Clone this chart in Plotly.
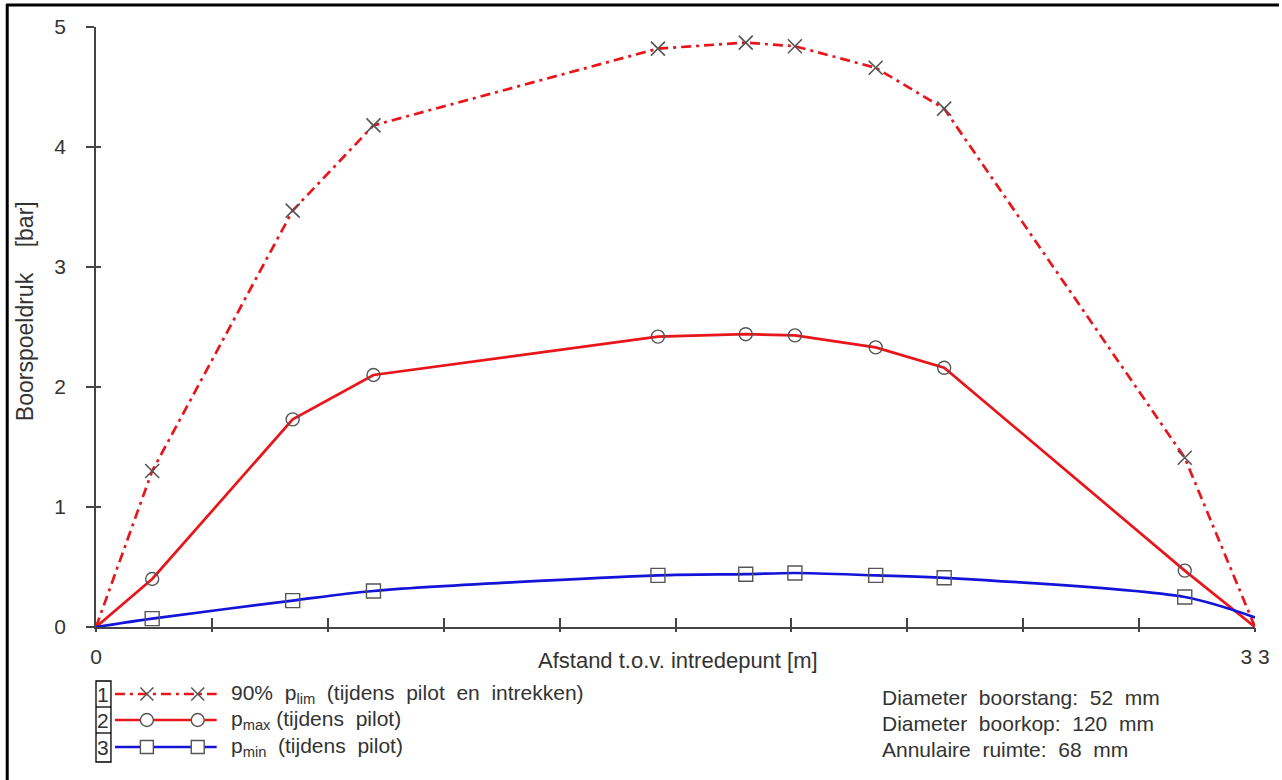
import plotly.graph_objects as go

# ---- data ----
x_m = [0, 1.6, 5.6, 7.9, 16.0, 18.5, 19.9, 22.2, 24.15, 31.0, 33]
p_lim90 = [0, 1.30, 3.47, 4.18, 4.82, 4.87, 4.84, 4.66, 4.32, 1.41, 0]
p_max = [0, 0.40, 1.73, 2.10, 2.42, 2.44, 2.43, 2.33, 2.16, 0.47, 0]
p_min = [0, 0.07, 0.22, 0.30, 0.43, 0.44, 0.45, 0.43, 0.41, 0.25, 0.08]

x_label_vals = [0, 33]
x_label_text = ["0", "3 3"]
x_tick_step = 3.3
y_tickvals = [0, 1, 2, 3, 4, 5]

S = " \u00a0"  # widened word gap as in the reference
legend_labels = ["90%" + S + "p<sub>lim</sub>" + S + "(tijdens" + S + "pilot" + S + "en" + S + "intrekken)",
                 "p<sub>max</sub> (tijdens" + S + "pilot)",
                 "p<sub>min</sub>" + S + "(tijdens" + S + "pilot)"]
info_lines = ["Diameter" + S + "boorstang:" + S + "52" + S + "mm",
              "Diameter" + S + "boorkop:" + S + "120" + S + "mm",
              "Annulaire" + S + "ruimte:" + S + "68" + S + "mm"]

RED = "#e8161b"
BLUE = "#1414d9"
MK = "#555555"
TXT = "#333333"
AX = "#444444"
FONT = "Arial, Liberation Sans, sans-serif"
FS = 21

W, H = 1282, 780
L, R, T, B = 96, 1258, 27, 627


def px(x):
    return (x - L) / (R - L)


def py(y):
    return (B - y) / (B - T)


fig = go.Figure()

inner_x = x_m[1:-1]

# 90% p_lim (dash-dot) on overlay y-axis
fig.add_trace(go.Scatter(x=x_m, y=p_lim90, mode="lines", xaxis="x", yaxis="y2",
                         line=dict(color=RED, width=2.7, dash="10px,5px,3px,5px"),
                         cliponaxis=False, showlegend=False, hoverinfo="skip"))
fig.add_trace(go.Scatter(x=inner_x, y=p_lim90[1:-1], mode="markers", xaxis="x", yaxis="y2",
                         marker=dict(symbol="x-thin-open", size=14, color=MK, line=dict(color=MK, width=1.6)),
                         cliponaxis=False, showlegend=False))
# p_max
fig.add_trace(go.Scatter(x=x_m, y=p_max, mode="lines",
                         line=dict(color=RED, width=2.7),
                         cliponaxis=False, showlegend=False, hoverinfo="skip"))
fig.add_trace(go.Scatter(x=inner_x, y=p_max[1:-1], mode="markers",
                         marker=dict(symbol="circle-open", size=13, color=MK, line=dict(color=MK, width=1.4)),
                         cliponaxis=False, showlegend=False))
# p_min (smooth) on overlay x-axis
fig.add_trace(go.Scatter(x=x_m, y=p_min, mode="lines", xaxis="x2", yaxis="y",
                         line=dict(color=BLUE, width=2.7, shape="spline", smoothing=0.8),
                         cliponaxis=False, showlegend=False, hoverinfo="skip"))
fig.add_trace(go.Scatter(x=inner_x, y=p_min[1:-1], mode="markers", xaxis="x2", yaxis="y",
                         marker=dict(symbol="square-open", size=14, color=MK, line=dict(color=MK, width=1.4)),
                         cliponaxis=False, showlegend=False))

axis_common = dict(showgrid=False, zeroline=False)
fig.update_layout(
    width=W, height=H, autosize=False,
    paper_bgcolor="white", plot_bgcolor="white",
    margin=dict(l=L, r=W - R, t=T, b=H - B),
    font=dict(family=FONT, size=FS, color=TXT),
    xaxis=dict(range=[0, 33], tickvals=x_label_vals, ticktext=x_label_text,
               ticks="inside", ticklen=9, tickwidth=1.5, tickcolor=AX,
               minor=dict(ticks="inside", ticklen=9, tickwidth=1.5, tickcolor=AX,
                          tick0=0, dtick=x_tick_step, showgrid=False),
               showline=True, linecolor=AX, linewidth=1.5,
               tickfont=dict(size=FS, color=TXT), ticklabelstandoff=10,
               **axis_common),
    xaxis2=dict(range=[0, 33], overlaying="x", anchor="y", side="bottom",
                tick0=0, dtick=x_tick_step, showticklabels=False,
                ticks="outside", ticklen=4, tickwidth=1.5, tickcolor=AX,
                showline=False, **axis_common),
    yaxis=dict(range=[0, 5], tickvals=y_tickvals,
               ticks="outside", ticklen=8, tickwidth=1.5, tickcolor=AX,
               showline=True, linecolor=AX, linewidth=1.5,
               tickfont=dict(size=FS, color=TXT), ticklabelstandoff=16,
               **axis_common),
    yaxis2=dict(range=[0, 5], overlaying="y", anchor="x", side="left",
                tickvals=y_tickvals, showticklabels=False,
                ticks="inside", ticklen=5, tickwidth=1.5, tickcolor=AX,
                showline=False, **axis_common),
)

ann = []
# axis titles
ann.append(dict(text="Boorspoeldruk" + "\u00a0" * 4 + "[bar]", x=px(25), y=py(311), xref="paper", yref="paper",
                textangle=-90, showarrow=False, xanchor="center", yanchor="middle",
                font=dict(size=23, color=TXT)))
ann.append(dict(text="Afstand t.o.v. intredepunt [m]", x=px(680), y=py(660), xref="paper", yref="paper",
                showarrow=False, xanchor="center", yanchor="middle", font=dict(size=FS + 1, color=TXT)))

shapes = []
# outer frame (top and left)
shapes.append(dict(type="line", xref="paper", yref="paper", x0=px(6), x1=px(1282), y0=py(5), y1=py(5),
                   line=dict(color="black", width=3)))
shapes.append(dict(type="line", xref="paper", yref="paper", x0=px(7), x1=px(7), y0=py(4), y1=py(780),
                   line=dict(color="black", width=3)))

# legend block
rows = [694, 720, 747]
box_edges = [681, 707, 733, 762]
shapes.append(dict(type="rect", xref="paper", yref="paper", x0=px(96), x1=px(111),
                   y0=py(box_edges[0]), y1=py(box_edges[-1]), line=dict(color="black", width=1.3)))
for e in box_edges[1:-1]:
    shapes.append(dict(type="line", xref="paper", yref="paper", x0=px(96), x1=px(111),
                       y0=py(e), y1=py(e), line=dict(color="black", width=1.3)))
styles = [dict(color=RED, width=2.4, dash="10px,5px,3px,5px"),
          dict(color=RED, width=2.6),
          dict(color=BLUE, width=2.6)]
for i, (yy, st) in enumerate(zip(rows, styles)):
    ann.append(dict(text=str(i + 1), x=px(103.5), y=py(yy), xref="paper", yref="paper",
                    showarrow=False, xanchor="center", yanchor="middle", font=dict(size=FS, color=TXT)))
    shapes.append(dict(type="line", xref="paper", yref="paper", x0=px(115), x1=px(217),
                       y0=py(yy), y1=py(yy), line=st))
    for mx in (147, 198):
        r = 6.5
        if i == 0:
            for d in (1, -1):
                shapes.append(dict(type="line", xref="paper", yref="paper",
                                   x0=px(mx - r), x1=px(mx + r), y0=py(yy - d * r), y1=py(yy + d * r),
                                   line=dict(color=MK, width=1.5)))
        elif i == 1:
            shapes.append(dict(type="circle", xref="paper", yref="paper",
                               x0=px(mx - r), x1=px(mx + r), y0=py(yy - r), y1=py(yy + r),
                               fillcolor="white", line=dict(color=MK, width=1.4)))
        else:
            shapes.append(dict(type="rect", xref="paper", yref="paper",
                               x0=px(mx - r), x1=px(mx + r), y0=py(yy - r), y1=py(yy + r),
                               fillcolor="white", line=dict(color=MK, width=1.4)))
    ann.append(dict(text=legend_labels[i], x=px(229), y=py(yy), xref="paper", yref="paper",
                    showarrow=False, xanchor="left", yanchor="middle", font=dict(size=FS, color=TXT)))

info_rows = [697, 723, 749]
for yy, t in zip(info_rows, info_lines):
    ann.append(dict(text=t, x=px(882), y=py(yy), xref="paper", yref="paper",
                    showarrow=False, xanchor="left", yanchor="middle", font=dict(size=FS, color=TXT)))

fig.update_layout(annotations=ann, shapes=shapes)

fig.write_html("out.html", config={"displayModeBar": False},
               post_script="document.body.style.margin='0';")
